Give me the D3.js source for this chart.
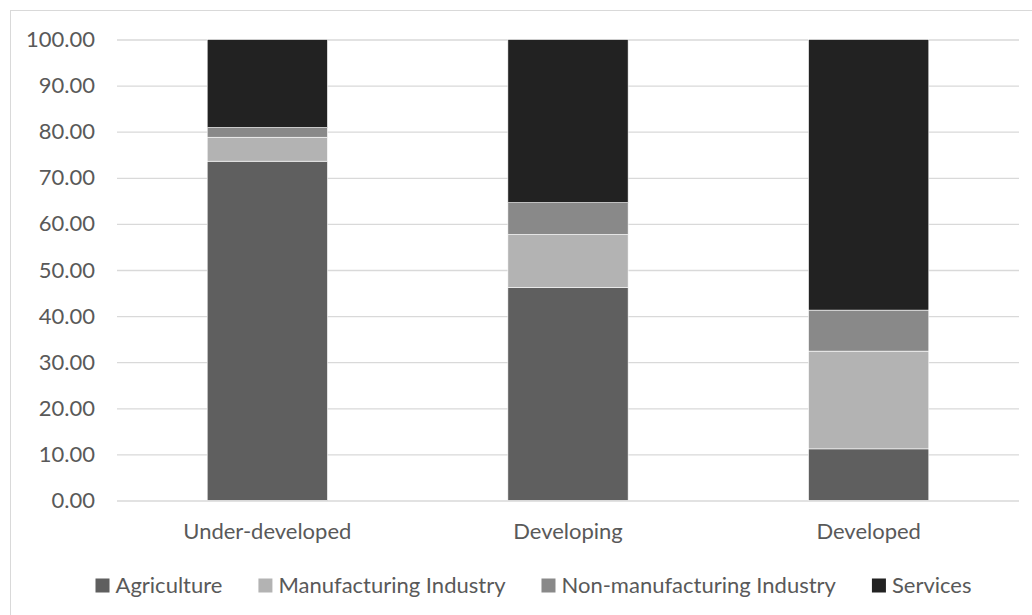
<!DOCTYPE html>
<html><head><meta charset="utf-8">
<script src="https://cdn.jsdelivr.net/npm/d3@7"></script>
<style>html,body{margin:0;padding:0;background:#fff;}svg{display:block;}</style>
</head><body>
<svg id="chart" width="1032" height="615"></svg>
<script>
const categories = ["Under-developed", "Developing", "Developed"];
const seriesNames = ["Agriculture", "Manufacturing Industry", "Non-manufacturing Industry", "Services"];
const agriculture = [73.6, 46.2, 11.2];
const manufacturing = [5.2, 11.5, 21.2];
const nonManufacturing = [2.1, 6.9, 8.9];
const services = [19.1, 35.4, 58.7];
const yTicks = [0, 10, 20, 30, 40, 50, 60, 70, 80, 90, 100];
const colors = ["#5f5f5f", "#b3b3b3", "#898989", "#222222"];

const seriesValues = [agriculture, manufacturing, nonManufacturing, services];
const table = categories.map((c, i) => {
  const row = {category: c};
  seriesNames.forEach((s, j) => row[s] = seriesValues[j][i]);
  return row;
});

const FONT = "Lato, 'Open Sans', sans-serif";
const FS = "22px";
const TXT = "#595959";
const svg = d3.select("#chart");

svg.append("rect").attr("x", 10.5).attr("y", 10.5).attr("width", 1040).attr("height", 640)
  .attr("fill", "#fff").attr("stroke", "#d9d9d9").attr("stroke-width", 1);

const pLeft = 117, pRight = 1019, pTop = 39.5, pBottom = 500.5;
const x = d3.scaleBand().domain(categories).range([pLeft, pRight]).paddingInner(0).paddingOuter(0);
const y = d3.scaleLinear().domain([0, 100]).range([pBottom, pTop]);

// gridlines
const yAxis = d3.axisLeft(y).tickValues(yTicks).tickSize(-(pRight - pLeft)).tickPadding(22)
  .tickFormat(d3.format(".2f"));
const gy = svg.append("g").attr("transform", `translate(${pLeft},0)`).call(yAxis);
gy.select(".domain").remove();
gy.selectAll(".tick line").attr("stroke", "#d9d9d9").attr("stroke-width", 1.3);
gy.selectAll(".tick text").attr("fill", TXT).style("font-family", FONT).style("font-size", FS);

// bars
const stack = d3.stack().keys(seriesNames)(table);
const barW = x.bandwidth() * 0.4;
svg.append("g").selectAll("g").data(stack).join("g")
  .attr("fill", (d, i) => colors[i])
  .selectAll("rect").data(d => d).join("rect")
  .attr("x", d => x(d.data.category) + (x.bandwidth() - barW) / 2)
  .attr("width", barW)
  .attr("y", d => y(d[1]))
  .attr("height", d => y(d[0]) - y(d[1]))
  .attr("stroke", "#fff").attr("stroke-width", 0.6);

// x axis labels
const xAxis = d3.axisBottom(x).tickSize(0).tickPadding(23);
const gx = svg.append("g").attr("transform", `translate(0,${pBottom})`).call(xAxis);
gx.select(".domain").remove();
gx.selectAll(".tick text").attr("fill", TXT).style("font-family", FONT).style("font-size", FS);

// legend
const legend = svg.append("g");
const items = legend.selectAll("g").data(seriesNames).join("g");
items.append("rect").attr("width", 14).attr("height", 14).attr("y", -7)
  .attr("fill", (d, i) => colors[i]);
items.append("text").attr("x", 20).attr("dy", "0.35em").text(d => d)
  .attr("fill", TXT).style("font-family", FONT).style("font-size", FS);
let cx = 0;
items.each(function() {
  const g = d3.select(this);
  g.attr("transform", `translate(${cx},0)`);
  const w = 20 + g.select("text").node().getComputedTextLength();
  cx += w + 36;
});
const total = cx - 36;
legend.attr("transform", `translate(${533.5 - total / 2},585.5)`);
</script>
</body></html>
